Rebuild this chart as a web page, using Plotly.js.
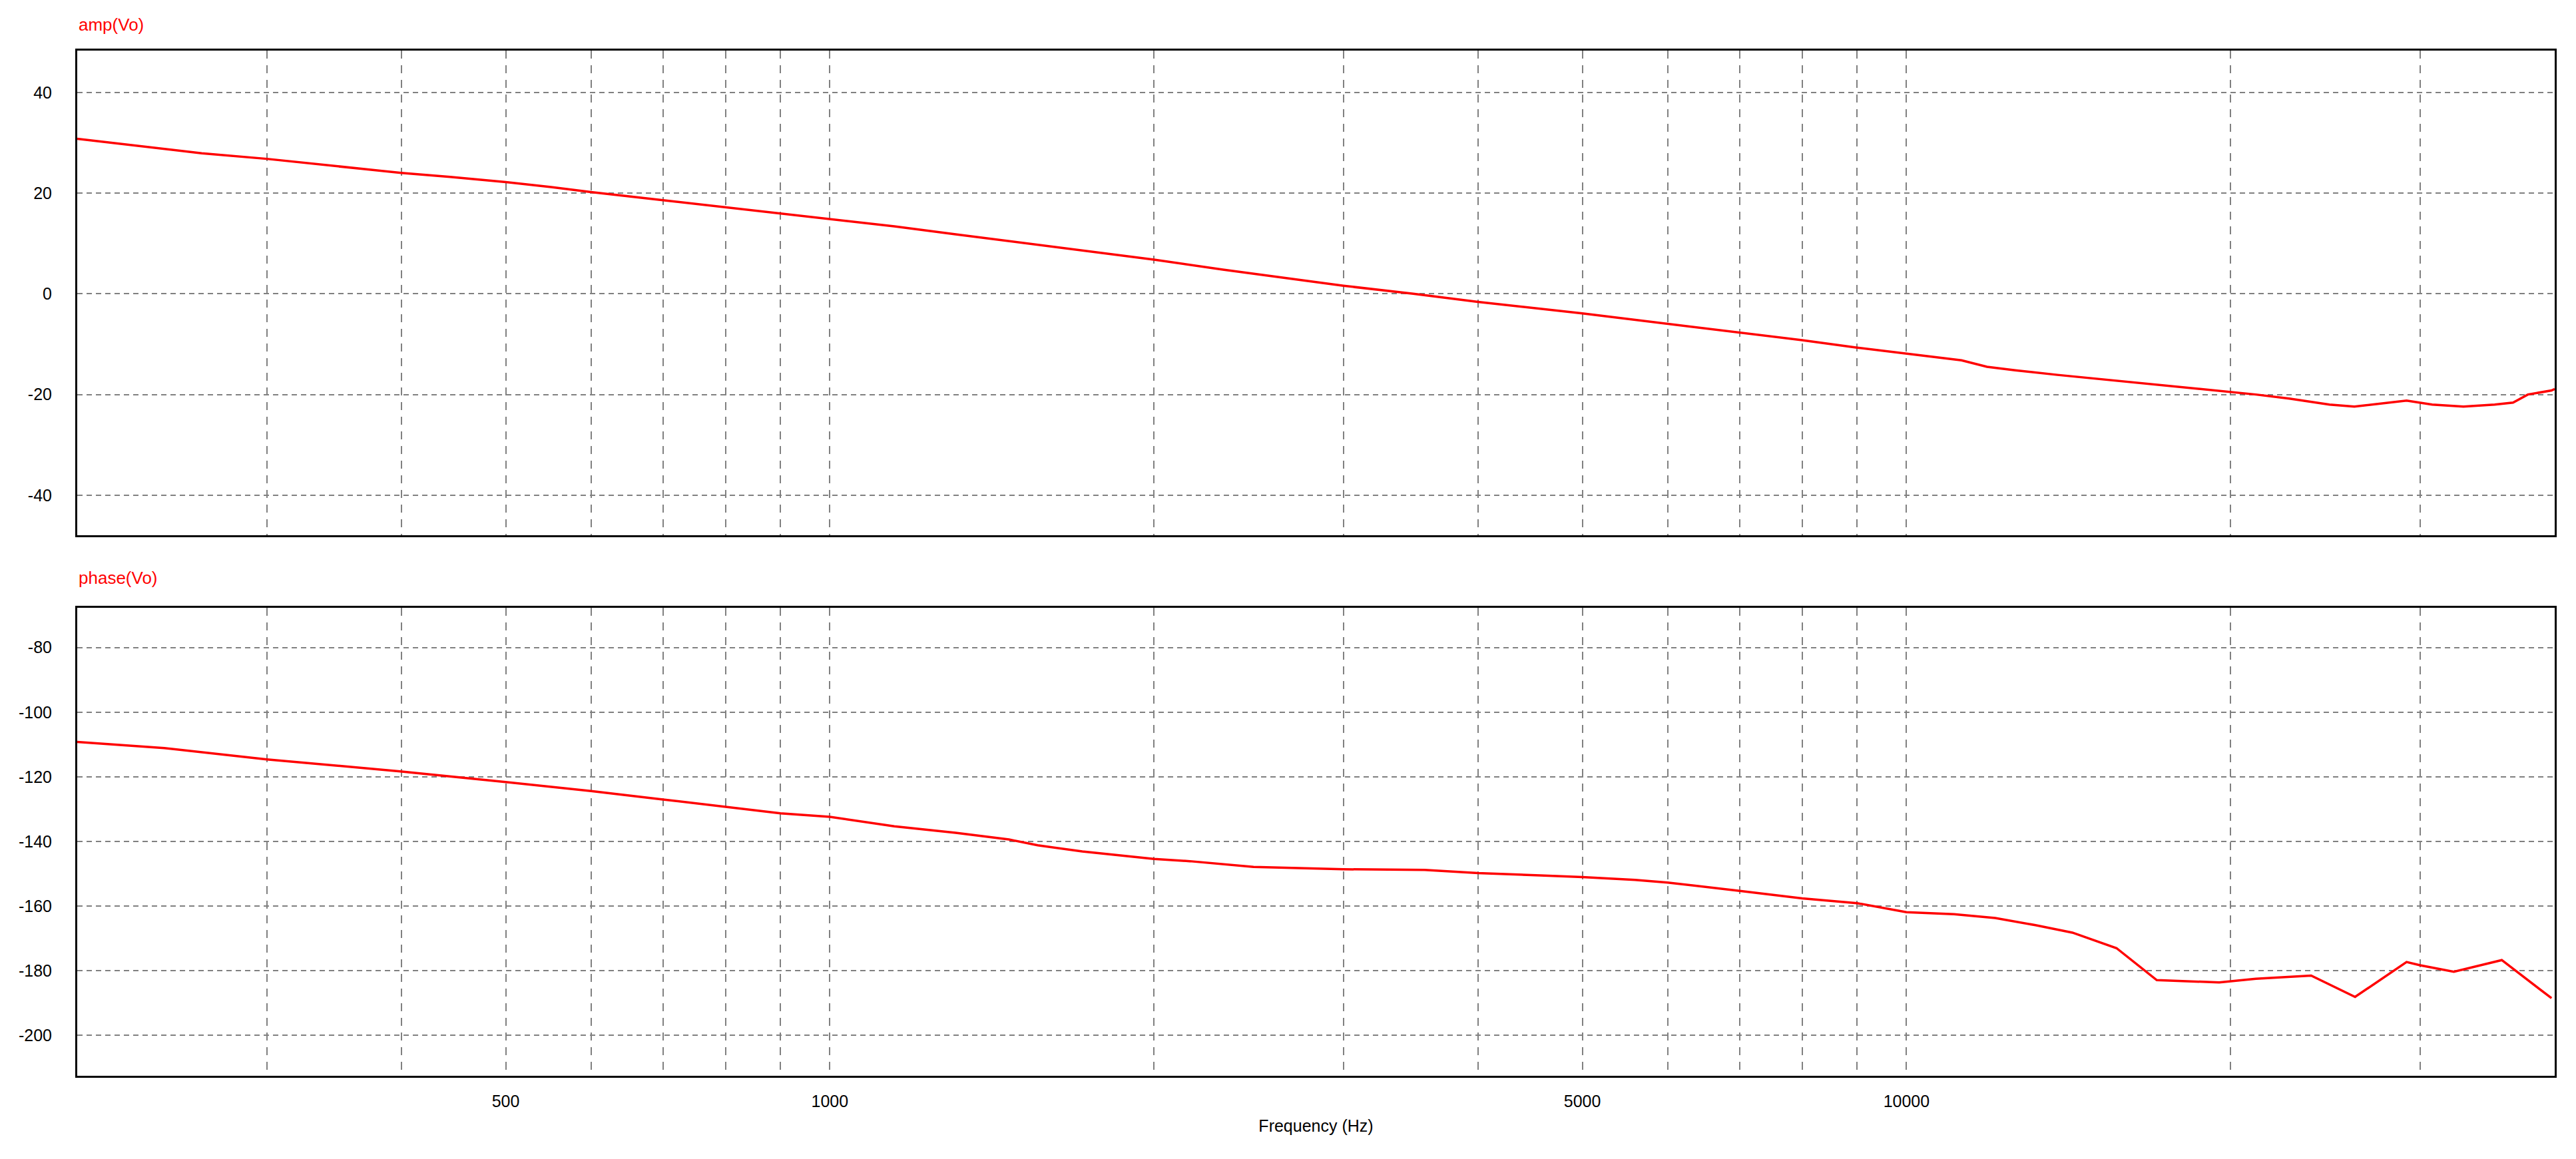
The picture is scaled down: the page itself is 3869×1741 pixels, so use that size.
<!DOCTYPE html>
<html>
<head>
<meta charset="utf-8">
<script src="https://cdn.plot.ly/plotly-3.0.1.min.js"></script>
<style>html,body{margin:0;padding:0;background:#fff;}#chart{width:3869px;height:1741px;}</style>
</head>
<body>
<div id="chart"></div>
<script>
// Frequency (Hz) and amplitude (dB) of Vo
const ampFreq = [200, 261, 300, 338, 400, 444, 500, 551, 600, 700, 800, 900, 1000, 1148, 1309, 1499, 1768, 2000, 2318, 2649, 3000, 3483, 4000, 5000, 6000, 7000, 8000, 9000, 10000, 11250, 11880, 12620, 13810, 15540, 17080, 19210, 21110, 22680, 24710, 26060, 29140, 30780, 32910, 35180, 36590, 37770, 39730, 40000];
const ampVals = [30.8, 27.9, 26.8, 25.6, 24.0, 23.2, 22.2, 21.2, 20.2, 18.6, 17.2, 15.9, 14.8, 13.4, 11.8, 10.2, 8.2, 6.8, 4.8, 3.1, 1.6, 0.0, -1.6, -3.9, -6.0, -7.7, -9.2, -10.7, -11.9, -13.2, -14.5, -15.2, -16.1, -17.2, -18.0, -19.2, -20.0, -20.8, -22.0, -22.4, -21.2, -22.0, -22.4, -22.0, -21.6, -20.0, -19.2, -18.9];

// Frequency (Hz) and phase (deg) of Vo
const phaseFreq = [200, 241, 300, 399, 500, 600, 700, 800, 900, 1000, 1148, 1309, 1467, 1560, 1716, 2000, 2160, 2475, 3000, 3568, 4000, 4567, 5000, 5596, 6000, 7000, 8000, 9000, 10000, 11070, 12090, 13180, 14260, 15670, 17080, 19520, 21110, 23760, 26100, 29140, 30000, 32240, 35720, 39730];
const phaseVals = [-109.2, -111.1, -114.6, -118.3, -121.6, -124.4, -127.0, -129.3, -131.3, -132.4, -135.3, -137.3, -139.4, -141.2, -143.1, -145.4, -146.1, -147.9, -148.6, -148.8, -149.8, -150.5, -151.0, -151.9, -152.7, -155.3, -157.6, -159.1, -161.9, -162.5, -163.7, -165.9, -168.2, -173.0, -182.9, -183.6, -182.5, -181.5, -188.1, -177.3, -178.3, -180.3, -176.7, -188.5];

// Axis ticks
const xGridVals = [300, 400, 500, 600, 700, 800, 900, 1000, 2000, 3000, 4000, 5000, 6000, 7000, 8000, 9000, 10000, 20000, 30000, 40000];
const xLabelVals = [500, 1000, 5000, 10000];
const ampTicks = [-40, -20, 0, 20, 40];
const phaseTicks = [-200, -180, -160, -140, -120, -100, -80];

const xText = xGridVals.map(v => xLabelVals.includes(v) ? String(v) : '');
const font = {family: 'Arial, "Liberation Sans", sans-serif', size: 25, color: '#000'};

const xCommon = {
  type: 'log',
  range: [Math.log10(200), Math.log10(40000)],
  tickmode: 'array',
  tickvals: xGridVals,
  ticks: '',
  showgrid: true,
  gridcolor: '#808080',
  gridwidth: 2,
  griddash: '12px,10px',
  showline: true,
  linecolor: '#000',
  linewidth: 3,
  mirror: true,
  zeroline: false,
  tickfont: font
};
const yCommon = {
  tickmode: 'array',
  ticks: '',
  showgrid: true,
  gridcolor: '#808080',
  gridwidth: 2,
  griddash: '8px,6px',
  showline: true,
  linecolor: '#000',
  linewidth: 3,
  mirror: true,
  zeroline: false,
  tickfont: font,
  ticklabelstandoff: 30
};

const traces = [
  {x: ampFreq, y: ampVals, xaxis: 'x', yaxis: 'y', mode: 'lines', line: {color: '#FF0000', width: 3.5}, hoverinfo: 'skip'},
  {x: phaseFreq, y: phaseVals, xaxis: 'x2', yaxis: 'y2', mode: 'lines', line: {color: '#FF0000', width: 3.5}, hoverinfo: 'skip'}
];

const layout = {
  width: 3869, height: 1741,
  paper_bgcolor: '#fff', plot_bgcolor: '#fff',
  showlegend: false,
  margin: {l: 116, r: 32, t: 76, b: 125},
  font: font,
  xaxis: Object.assign({}, xCommon, {anchor: 'y', showticklabels: false, ticktext: xText}),
  yaxis: Object.assign({}, yCommon, {domain: [0.527, 1], range: [-48, 48.3], tickvals: ampTicks, ticktext: ampTicks.map(String)}),
  xaxis2: Object.assign({}, xCommon, {anchor: 'y2', showticklabels: true, ticktext: xText, ticklabelstandoff: 14,
    title: {text: 'Frequency (Hz)', font: font, standoff: 16}}),
  yaxis2: Object.assign({}, yCommon, {domain: [0, 0.4565], range: [-212.5, -67.7], tickvals: phaseTicks, ticktext: phaseTicks.map(String)}),
  annotations: [
    {text: 'amp(Vo)', xref: 'paper', yref: 'paper', x: 0, y: 1.0253, xanchor: 'left', yanchor: 'middle', showarrow: false, font: {family: font.family, size: 26, color: '#FF0000'}},
    {text: 'phase(Vo)', xref: 'paper', yref: 'paper', x: 0, y: 0.4857, xanchor: 'left', yanchor: 'middle', showarrow: false, font: {family: font.family, size: 26, color: '#FF0000'}}
  ]
};

Plotly.newPlot('chart', traces, layout, {staticPlot: true, displayModeBar: false});
</script>
</body>
</html>
